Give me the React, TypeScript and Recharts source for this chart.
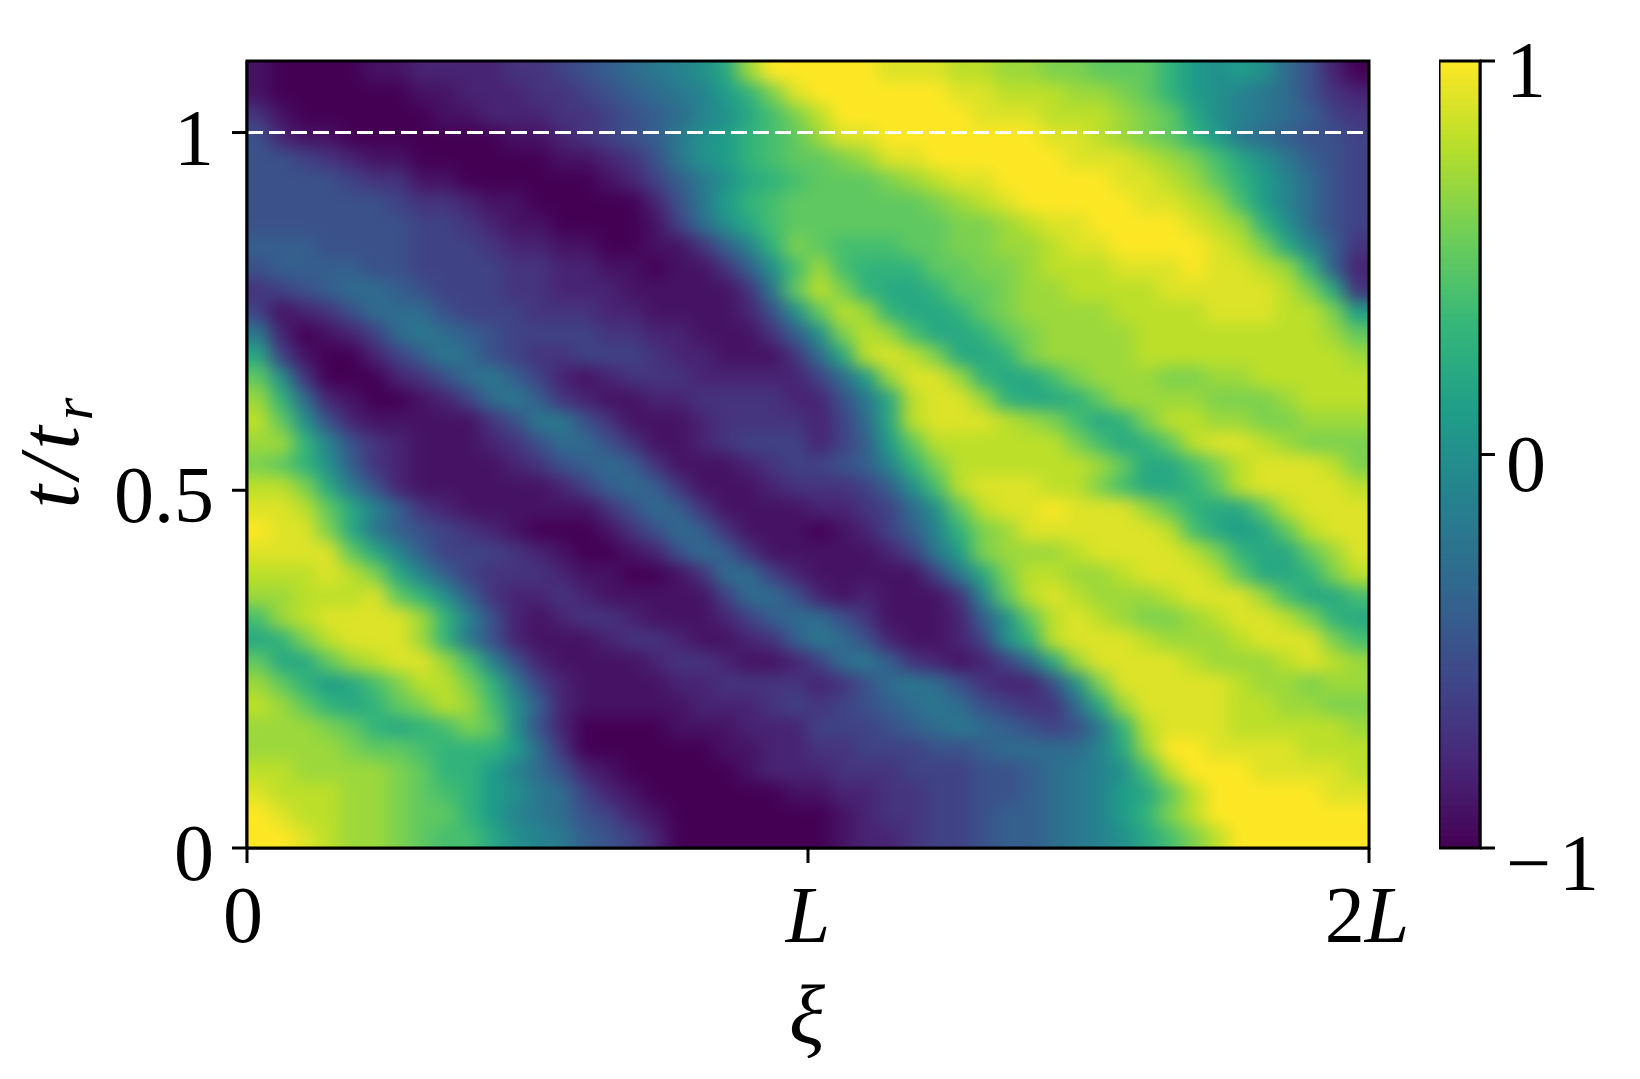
import { ScatterChart, Scatter, XAxis, YAxis } from 'recharts'

// field values in tenths, top row first
const heatRows = [
  [-9,-10,-10,-10,-10,-9,-9,-8,-8,-8,-8,-7,-7,-6,-5,-4,-3,-2,-1,0,2,7,10,10,10,10,10,9,9,9,8,8,7,7,6,6,5,5,5,3,1,0,1,0,-3,-5,-8,-10],
  [-9,-10,-10,-10,-10,-10,-10,-9,-9,-8,-8,-8,-7,-7,-6,-5,-4,-3,-2,-1,1,3,6,9,10,10,10,10,10,10,9,9,8,8,8,7,7,6,5,3,1,0,-1,-2,-3,-5,-7,-8],
  [-7,-9,-10,-10,-10,-10,-10,-10,-9,-9,-8,-8,-8,-7,-7,-6,-5,-4,-3,-1,0,2,4,6,8,10,10,10,10,10,10,9,9,9,8,8,8,7,6,5,2,0,-1,-2,-3,-4,-6,-7],
  [-5,-8,-9,-9,-10,-10,-10,-10,-10,-10,-10,-9,-9,-8,-7,-6,-5,-4,-2,0,1,3,4,5,7,9,9,10,10,10,10,10,10,10,9,9,8,7,6,5,3,1,-2,-3,-4,-5,-5,-6],
  [-5,-5,-6,-7,-8,-9,-9,-10,-10,-10,-10,-10,-10,-9,-9,-8,-7,-5,-2,0,1,3,4,5,5,6,7,9,9,10,10,10,10,10,10,9,9,9,8,7,6,4,2,0,-2,-4,-5,-6],
  [-5,-5,-5,-5,-6,-7,-7,-9,-9,-10,-10,-10,-10,-10,-10,-9,-8,-6,-4,-2,0,2,3,4,5,5,5,6,7,8,9,9,10,10,10,10,10,9,9,8,7,5,3,1,-1,-3,-5,-6],
  [-5,-5,-5,-5,-5,-5,-6,-7,-7,-8,-9,-9,-10,-10,-10,-10,-10,-8,-5,-2,1,3,4,5,5,5,5,5,5,6,7,8,9,10,10,10,10,10,9,9,8,7,4,1,-1,-3,-5,-6],
  [-5,-5,-5,-5,-5,-5,-5,-6,-6,-7,-8,-9,-9,-10,-10,-10,-10,-9,-6,-3,0,2,4,5,5,5,5,5,5,5,6,6,7,8,9,9,10,10,10,10,9,8,7,3,0,-3,-5,-6],
  [-4,-4,-4,-5,-5,-5,-5,-6,-6,-6,-7,-8,-8,-9,-9,-10,-10,-9,-9,-7,-4,-1,3,6,5,4,4,4,5,5,6,6,7,7,8,9,9,10,10,10,10,9,8,6,2,-1,-4,-7],
  [-5,-4,-4,-4,-4,-5,-5,-6,-6,-6,-6,-7,-7,-8,-8,-9,-9,-10,-9,-9,-7,-4,0,4,7,4,3,3,3,5,5,6,6,7,8,8,8,9,9,9,10,9,9,8,7,3,-4,-8],
  [-7,-6,-5,-4,-3,-3,-4,-5,-6,-6,-6,-7,-7,-8,-8,-8,-9,-9,-9,-9,-9,-7,-2,5,8,6,3,2,2,3,5,5,6,7,7,8,8,8,8,9,9,9,9,9,8,6,2,-7],
  [-6,-9,-8,-7,-5,-3,-3,-3,-5,-6,-6,-6,-7,-7,-7,-8,-8,-9,-9,-9,-9,-8,-5,0,5,8,7,3,2,2,3,5,6,7,7,7,7,8,8,8,8,9,9,9,8,8,6,1],
  [-2,-8,-10,-9,-8,-6,-3,-2,-3,-4,-5,-6,-6,-6,-6,-7,-7,-8,-8,-9,-9,-9,-7,-4,0,6,8,7,4,2,2,3,5,6,7,7,7,7,8,8,8,8,8,8,8,8,7,5],
  [2,-6,-9,-10,-10,-8,-6,-4,-2,-3,-5,-6,-7,-7,-6,-6,-6,-7,-8,-8,-9,-9,-9,-7,-3,2,8,9,8,6,2,2,3,6,7,7,7,7,8,8,8,8,8,8,8,8,8,7],
  [5,0,-7,-10,-10,-10,-8,-7,-5,-3,-2,-4,-6,-8,-9,-8,-7,-7,-7,-8,-8,-8,-8,-8,-6,-3,1,7,9,9,7,3,2,2,4,6,7,7,7,6,6,7,7,8,8,8,8,8],
  [7,3,-3,-8,-9,-10,-10,-9,-8,-6,-3,-2,-4,-7,-8,-9,-9,-8,-8,-7,-7,-7,-7,-8,-8,-5,-2,2,8,9,9,7,3,2,2,3,5,7,7,7,7,6,6,6,7,8,8,8],
  [8,5,0,-5,-8,-9,-9,-9,-9,-9,-7,-5,-2,-2,-5,-7,-9,-9,-9,-8,-7,-7,-7,-7,-8,-6,-3,2,8,9,9,9,8,7,6,4,2,3,6,8,8,7,7,6,6,7,7,7],
  [7,7,3,-1,-5,-7,-8,-9,-9,-9,-8,-7,-5,-3,-3,-5,-7,-9,-9,-8,-7,-6,-6,-6,-8,-6,-4,1,5,8,8,8,8,8,8,6,4,2,3,5,8,9,9,8,7,6,6,6],
  [6,5,3,0,-4,-7,-8,-9,-9,-9,-9,-8,-7,-5,-4,-3,-4,-7,-9,-9,-9,-8,-7,-6,-6,-5,-4,-1,3,6,8,8,8,8,8,8,7,5,2,2,4,6,8,9,9,9,8,6],
  [8,8,6,2,-2,-5,-8,-9,-9,-9,-9,-9,-9,-8,-6,-4,-3,-4,-7,-9,-9,-9,-8,-7,-7,-7,-6,-4,0,4,8,9,9,9,8,8,6,4,2,2,3,5,8,9,9,9,9,8],
  [9,9,8,5,2,-1,-4,-7,-8,-9,-9,-9,-9,-9,-9,-7,-5,-3,-4,-7,-9,-9,-9,-9,-8,-8,-7,-6,-3,0,5,8,9,9,10,9,9,9,7,5,3,2,2,5,8,9,9,9],
  [10,9,9,6,2,-2,-4,-5,-6,-7,-8,-9,-10,-10,-10,-9,-7,-5,-3,-4,-7,-9,-9,-9,-10,-9,-8,-6,-4,-1,3,6,7,9,9,9,9,9,9,8,4,2,1,2,5,8,9,9],
  [9,9,9,9,5,2,-1,-4,-6,-6,-6,-7,-8,-9,-10,-10,-9,-8,-5,-3,-4,-7,-9,-9,-9,-9,-9,-8,-6,-2,1,6,7,7,7,8,9,9,9,9,8,6,3,2,2,5,7,9],
  [8,8,8,9,8,6,2,-1,-4,-6,-7,-7,-7,-8,-9,-9,-10,-10,-9,-7,-3,-3,-6,-8,-9,-9,-9,-9,-9,-6,-2,2,6,8,8,7,7,8,9,9,9,8,5,2,2,3,6,8],
  [7,7,8,8,8,9,5,3,0,-4,-7,-8,-8,-7,-8,-9,-9,-9,-9,-9,-6,-3,-3,-5,-8,-9,-8,-9,-9,-9,-7,-1,5,8,9,8,7,7,7,8,9,9,9,7,4,2,2,4],
  [4,7,8,9,9,9,9,7,3,-1,-5,-8,-9,-8,-7,-7,-8,-9,-9,-9,-8,-6,-4,-3,-3,-5,-7,-9,-9,-9,-8,-4,0,5,8,9,8,7,6,6,7,8,9,9,8,6,3,2],
  [2,3,6,8,9,9,9,7,3,-2,-5,-8,-9,-9,-9,-8,-7,-7,-8,-9,-9,-8,-7,-4,-2,-3,-5,-8,-9,-9,-8,-6,0,3,8,9,9,9,8,7,7,7,8,9,9,9,6,4],
  [5,2,2,5,7,8,9,9,7,4,-1,-5,-8,-9,-9,-9,-9,-8,-7,-7,-8,-9,-9,-8,-6,-3,-2,-4,-7,-8,-9,-8,-6,-3,2,7,9,9,9,9,8,7,7,7,8,9,8,7],
  [7,5,3,1,2,4,6,8,8,6,3,-2,-6,-8,-9,-9,-9,-9,-8,-8,-7,-7,-7,-7,-8,-7,-5,-3,-2,-3,-5,-7,-8,-8,-5,0,6,9,9,9,9,9,8,7,7,6,7,7],
  [8,7,5,3,2,3,5,6,8,7,4,0,-4,-8,-9,-9,-9,-9,-9,-8,-8,-8,-7,-6,-7,-6,-5,-4,-3,-2,-3,-5,-6,-7,-7,-3,2,7,9,9,9,9,8,8,7,7,6,6],
  [7,7,7,6,5,3,2,3,4,6,5,0,-5,-8,-10,-10,-10,-10,-9,-9,-9,-8,-8,-8,-6,-6,-6,-5,-4,-3,-2,-3,-4,-5,-6,-5,-2,3,8,9,9,9,8,8,8,8,8,7],
  [7,7,7,7,6,5,5,4,3,3,3,1,-3,-7,-10,-10,-10,-10,-10,-10,-9,-9,-8,-8,-7,-7,-6,-6,-6,-5,-5,-4,-3,-3,-3,-3,-1,2,7,10,10,9,9,9,9,8,8,8],
  [8,8,7,7,7,7,6,5,3,3,1,-1,-3,-5,-8,-9,-10,-10,-10,-10,-10,-9,-8,-8,-8,-7,-7,-7,-6,-6,-6,-5,-5,-4,-3,-2,-1,0,4,8,10,10,10,9,9,9,9,8],
  [9,8,8,8,7,7,6,5,4,3,1,0,-2,-3,-6,-8,-9,-10,-10,-10,-10,-10,-10,-9,-9,-8,-8,-7,-7,-6,-6,-5,-5,-4,-3,-2,-1,1,2,5,8,10,10,10,10,10,9,9],
  [10,9,8,8,7,7,6,5,5,3,1,-1,-2,-3,-5,-6,-8,-9,-10,-10,-10,-10,-10,-10,-10,-9,-8,-7,-7,-6,-6,-5,-4,-4,-3,-2,-1,1,3,6,8,10,10,10,10,10,10,10],
  [10,10,9,8,7,7,6,5,4,4,2,0,-1,-2,-4,-5,-6,-8,-10,-10,-10,-10,-10,-10,-10,-9,-8,-8,-7,-6,-6,-5,-4,-4,-3,-2,-1,0,2,4,6,8,10,10,10,10,10,10],
]

const xTicks = [0, 1, 2]
const xTickLabels = ['0', 'L', '2L']
const tTicks = [0, 0.5, 1]
const colorbarTicks = [-1, 0, 1]
const viridisStops = ['#440154', '#482878', '#3e4989', '#31688e', '#26828e', '#1f9e89', '#35b779', '#6ece58', '#b5de2b', '#fde725']

// recurrence time line and plot frame, both drawn as series so they sit over the heat cells
const recurrenceLine = [{ x: 0, t: 1 }, { x: 2, t: 1 }]
const tMax = 1.1
const frameCorners = [{ x: 0, t: 0 }, { x: 2, t: 0 }, { x: 2, t: tMax }, { x: 0, t: tMax }, { x: 0, t: 0 }]
const colorbarFrame = [{ x: 0, v: -1 }, { x: 1, v: -1 }, { x: 1, v: 1 }, { x: 0, v: 1 }, { x: 0, v: -1 }]

const rowCount = heatRows.length
const colCount = heatRows[0].length
const plotWidth = 1122
const plotHeight = 787
const cellW = plotWidth / colCount
const cellH = plotHeight / rowCount
const serif = '"Liberation Serif", serif'

const heatData = heatRows.flatMap((row, r) =>
  row.map((v, c) => ({
    x: ((c + 0.5) / colCount) * 2,
    t: tMax * (1 - (r + 0.5) / rowCount),
    v: v / 10,
    r,
    c,
  })),
)

const colorbarData = Array.from({ length: 128 }, (_, i) => ({ x: 0.5, v: -1 + ((i + 0.5) / 128) * 2 }))

function viridis(v: number) {
  const p = Math.min(Math.max((v + 1) / 2, 0), 1) * (viridisStops.length - 1)
  const i = Math.min(Math.floor(p), viridisStops.length - 2)
  const f = p - i
  const a = viridisStops[i]
  const b = viridisStops[i + 1]
  const mix = (k: number) => {
    const ca = parseInt(a.slice(k, k + 2), 16)
    const cb = parseInt(b.slice(k, k + 2), 16)
    return Math.round(ca + (cb - ca) * f)
  }
  return `rgb(${mix(1)},${mix(3)},${mix(5)})`
}

// edge cells run past the frame so the blur has no white to pull in; the clip trims them
function HeatCell(props: any) {
  const { cx, cy, payload } = props
  const pad = 40
  const left = payload.c === 0 ? pad : 0
  const right = payload.c === colCount - 1 ? pad : 0
  const top = payload.r === 0 ? pad : 0
  const bottom = payload.r === rowCount - 1 ? pad : 0
  return (
    <rect
      x={cx - cellW / 2 - left - 0.5}
      y={cy - cellH / 2 - top - 0.5}
      width={cellW + left + right + 1}
      height={cellH + top + bottom + 1}
      fill={viridis(payload.v)}
    />
  )
}

function RampCell(props: any) {
  const { cx, cy, payload } = props
  const h = plotHeight / colorbarData.length
  return <rect x={cx - 20.5} y={cy - h / 2 - 0.5} width={41} height={h + 1} fill={viridis(payload.v)} />
}

function NoPoint() {
  return null
}

function XTick({ x, y, payload }: any) {
  const label = xTickLabels[xTicks.indexOf(payload.value)]
  const dx = payload.value === 0 ? -4 : payload.value === 2 ? -2 : 0
  return (
    <text x={x + dx} y={y + 79} textAnchor="middle" fontFamily={serif} fontSize={80} fill="#000">
      {label.replace('L', '')}
      {label.includes('L') && <tspan fontStyle="italic">L</tspan>}
    </text>
  )
}

function YTick({ x, y, payload }: any) {
  return (
    <text x={x} y={y + 32} textAnchor="end" fontFamily={serif} fontSize={80} fill="#000">
      {payload.value}
    </text>
  )
}

function BarTick({ x, y, payload }: any) {
  const negative = payload.value < 0
  return (
    <text
      x={x}
      y={y + (negative ? 42 : 36)}
      textAnchor="start"
      fontFamily={serif}
      fontSize={80}
      letterSpacing={negative ? 8 : 0}
      fill="#000"
    >
      {negative ? `\u2212${-payload.value}` : payload.value}
    </text>
  )
}

function YTitle() {
  return (
    <text
      transform="translate(78,450) rotate(-90)"
      textAnchor="middle"
      fontFamily={serif}
      fontStyle="italic"
      fontSize={84}
      letterSpacing={6}
      fill="#000"
    >
      t/t
      <tspan fontSize={58} dy={14}>
        r
      </tspan>
    </text>
  )
}

function XTitle() {
  return (
    <text x={807} y={1043} textAnchor="middle" fontFamily={serif} fontStyle="italic" fontSize={84} fill="#000">
      ξ
    </text>
  )
}

export default function App() {
  const axisLine = { stroke: '#000', strokeWidth: 3 }
  return (
    <div style={{ position: 'absolute', left: 0, top: 0, width: 1640, height: 1079, background: '#fff', overflow: 'hidden' }}>
      <style>{`.heat-layer { filter: url(#heatBlur); clip-path: url(#plotClip); }`}</style>
      <div style={{ position: 'absolute', left: 0, top: 0 }}>
        <ScatterChart width={1640} height={1079} margin={{ top: 61, right: 271, bottom: 131, left: 97 }}>
          <defs>
            <filter id="heatBlur" filterUnits="userSpaceOnUse" x={190} y={10} width={1240} height={900} colorInterpolationFilters="sRGB">
              <feGaussianBlur stdDeviation="9 8" />
            </filter>
            <clipPath id="plotClip" clipPathUnits="userSpaceOnUse">
              <rect x={247} y={61} width={plotWidth} height={plotHeight} />
            </clipPath>
          </defs>
          <XAxis
            type="number"
            dataKey="x"
            domain={[0, 2]}
            ticks={xTicks}
            height={100}
            tickSize={15}
            tickMargin={0}
            axisLine={axisLine}
            tickLine={axisLine}
            tick={<XTick />}
            interval={0}
            label={<XTitle />}
          />
          <YAxis
            type="number"
            dataKey="t"
            domain={[0, tMax]}
            ticks={tTicks}
            width={150}
            tickSize={15}
            tickMargin={18}
            axisLine={axisLine}
            tickLine={axisLine}
            tick={<YTick />}
            interval={0}
            label={<YTitle />}
          />
          <Scatter data={heatData} shape={<HeatCell />} className="heat-layer" isAnimationActive={false} />
          <Scatter
            data={recurrenceLine}
            shape={<NoPoint />}
            line={{ stroke: '#fff', strokeWidth: 3, strokeDasharray: '16 6' }}
            isAnimationActive={false}
          />
          <Scatter
            data={frameCorners}
            shape={<NoPoint />}
            line={{ stroke: '#000', strokeWidth: 3, fill: 'none' }}
            isAnimationActive={false}
          />
        </ScatterChart>
      </div>
      <div style={{ position: 'absolute', left: 1439, top: 0 }}>
        <ScatterChart width={201} height={1079} margin={{ top: 61, right: 0, bottom: 231, left: 0 }}>
          <XAxis type="number" dataKey="x" domain={[0, 1]} hide />
          <YAxis
            yAxisId="bar"
            orientation="right"
            type="number"
            dataKey="v"
            domain={[-1, 1]}
            ticks={colorbarTicks}
            width={160}
            tickSize={15}
            tickMargin={11}
            axisLine={axisLine}
            tickLine={axisLine}
            tick={<BarTick />}
            interval={0}
          />
          <Scatter yAxisId="bar" data={colorbarData} shape={<RampCell />} isAnimationActive={false} />
          <Scatter
            yAxisId="bar"
            data={colorbarFrame}
            shape={<NoPoint />}
            line={{ stroke: '#000', strokeWidth: 3, fill: 'none' }}
            isAnimationActive={false}
          />
        </ScatterChart>
      </div>
    </div>
  )
}
